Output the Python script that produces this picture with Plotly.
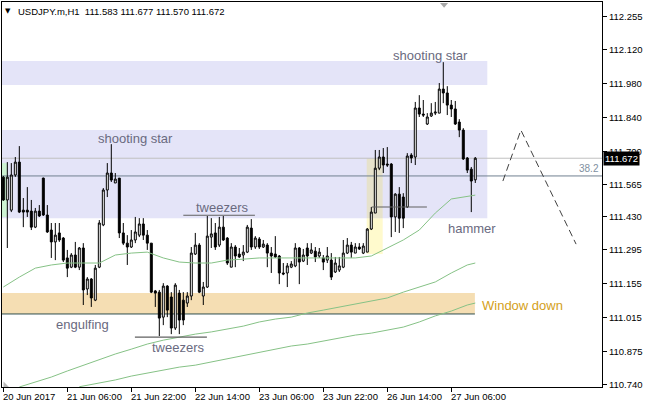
import plotly.graph_objects as go

# ---------------- data ----------------
bar_open = [111.594, 111.500, 111.458, 111.603, 111.656, 111.458, 111.458, 111.454, 111.388, 111.454,
            111.590, 111.438, 111.376, 111.327, 111.364, 111.343, 111.261, 111.223, 111.273, 111.223,
            111.302, 111.133, 111.174, 111.087, 111.223, 111.397, 111.541, 111.611, 111.570, 111.590,
            111.364, 111.322, 111.306, 111.335, 111.355, 111.401, 111.355, 111.322, 111.125, 111.120,
            111.017, 111.145, 111.100, 110.972, 111.116, 111.087, 111.075, 111.104, 111.277, 111.314,
            111.104, 111.141, 111.347, 111.364, 111.314, 111.388, 111.343, 111.223, 111.306, 111.277,
            111.273, 111.285, 111.384, 111.306, 111.339, 111.306, 111.314, 111.281, 111.277, 111.269,
            111.199, 111.199, 111.223, 111.228, 111.302, 111.248, 111.302, 111.281, 111.289, 111.269,
            111.261, 111.252, 111.252, 111.203, 111.211, 111.223, 111.281, 111.314, 111.281, 111.306,
            111.281, 111.285, 111.380, 111.446, 111.631, 111.677, 111.648, 111.648, 111.430, 111.524,
            111.512, 111.471, 111.685, 111.677, 111.879, 111.854, 111.813, 111.846, 111.858, 111.858,
            111.957, 111.941, 111.891, 111.875, 111.821, 111.788, 111.673, 111.627, 111.583]
bar_high = [111.599, 111.656, 111.652, 111.677, 111.722, 111.508, 111.553, 111.500, 111.467, 111.479,
            111.592, 111.479, 111.405, 111.405, 111.405, 111.347, 111.294, 111.281, 111.327, 111.306,
            111.322, 111.182, 111.178, 111.232, 111.417, 111.549, 111.652, 111.730, 111.611, 111.590,
            111.405, 111.355, 111.376, 111.430, 111.425, 111.425, 111.376, 111.322, 111.129, 111.129,
            111.157, 111.149, 111.120, 111.157, 111.129, 111.120, 111.120, 111.306, 111.364, 111.322,
            111.162, 111.434, 111.425, 111.405, 111.430, 111.434, 111.347, 111.322, 111.314, 111.302,
            111.314, 111.397, 111.421, 111.351, 111.347, 111.335, 111.322, 111.306, 111.351, 111.273,
            111.240, 111.240, 111.248, 111.322, 111.306, 111.298, 111.322, 111.322, 111.306, 111.302,
            111.273, 111.306, 111.281, 111.265, 111.265, 111.335, 111.343, 111.327, 111.322, 111.322,
            111.322, 111.384, 111.471, 111.706, 111.706, 111.714, 111.718, 111.652, 111.528, 111.553,
            111.528, 111.693, 111.693, 111.904, 111.932, 111.912, 111.858, 111.899, 111.904, 111.982,
            112.068, 111.969, 111.912, 111.908, 111.833, 111.796, 111.677, 111.636, 111.677]
bar_low = [111.496, 111.302, 111.450, 111.595, 111.446, 111.388, 111.430, 111.376, 111.384, 111.430,
           111.434, 111.364, 111.261, 111.252, 111.327, 111.244, 111.182, 111.219, 111.219, 111.211,
           111.067, 111.108, 111.059, 111.083, 111.219, 111.392, 111.512, 111.574, 111.570, 111.343,
           111.314, 111.232, 111.302, 111.322, 111.347, 111.335, 111.294, 111.116, 111.059, 110.939,
           110.984, 111.017, 110.947, 110.964, 110.947, 110.984, 111.059, 111.087, 111.273, 111.116,
           111.067, 111.137, 111.302, 111.294, 111.306, 111.331, 111.232, 111.223, 111.223, 111.261,
           111.248, 111.281, 111.294, 111.298, 111.298, 111.302, 111.223, 111.199, 111.261, 111.153,
           111.190, 111.141, 111.219, 111.223, 111.153, 111.244, 111.232, 111.277, 111.244, 111.261,
           111.211, 111.240, 111.170, 111.199, 111.203, 111.219, 111.277, 111.261, 111.281, 111.294,
           111.277, 111.285, 111.376, 111.446, 111.623, 111.611, 111.636, 111.347, 111.368, 111.364,
           111.384, 111.467, 111.652, 111.644, 111.842, 111.842, 111.809, 111.842, 111.850, 111.858,
           111.899, 111.850, 111.842, 111.809, 111.759, 111.665, 111.611, 111.450, 111.570]
bar_close = [111.500, 111.594, 111.603, 111.656, 111.450, 111.450, 111.450, 111.388, 111.454, 111.434,
             111.438, 111.368, 111.327, 111.355, 111.335, 111.252, 111.219, 111.273, 111.223, 111.302,
             111.129, 111.174, 111.096, 111.219, 111.405, 111.541, 111.611, 111.582, 111.586, 111.364,
             111.322, 111.306, 111.335, 111.368, 111.401, 111.355, 111.322, 111.120, 111.116, 111.013,
             111.145, 111.046, 110.972, 111.149, 111.005, 111.005, 111.104, 111.281, 111.314, 111.120,
             111.141, 111.351, 111.360, 111.306, 111.388, 111.335, 111.240, 111.306, 111.269, 111.265,
             111.285, 111.388, 111.306, 111.343, 111.306, 111.318, 111.281, 111.269, 111.265, 111.199,
             111.195, 111.228, 111.236, 111.302, 111.244, 111.273, 111.269, 111.294, 111.265, 111.285,
             111.244, 111.269, 111.182, 111.240, 111.228, 111.281, 111.314, 111.285, 111.306, 111.298,
             111.310, 111.380, 111.450, 111.631, 111.677, 111.644, 111.644, 111.430, 111.524, 111.425,
             111.425, 111.681, 111.673, 111.879, 111.854, 111.850, 111.842, 111.858, 111.862, 111.957,
             111.941, 111.891, 111.875, 111.813, 111.788, 111.669, 111.623, 111.578, 111.672]
bar_index = list(range(len(bar_open)))

# time-axis ticks (hourly bars)
time_tick_index = [0, 16, 32, 48, 64, 80, 96, 112]
time_tick_text = ["20 Jun 2017", "21 Jun 06:00", "21 Jun 22:00", "22 Jun 14:00",
                  "23 Jun 06:00", "23 Jun 22:00", "26 Jun 14:00", "27 Jun 06:00"]

# price-axis ticks
price_ticks = [112.255, 112.120, 111.980, 111.840, 111.700, 111.565,
               111.430, 111.295, 111.155, 111.015, 110.875, 110.740]

# moving averages
ma_fast_index = [0, 4, 8, 12, 16, 20, 24, 28, 32, 36, 40, 44, 48, 52, 56, 60, 64, 68, 72, 76,
                 80, 84, 88, 92, 96, 100, 104, 108, 112, 116, 118]
ma_fast = [111.141, 111.182, 111.219, 111.232, 111.240, 111.240, 111.240, 111.273, 111.281, 111.285,
           111.261, 111.244, 111.240, 111.240, 111.252, 111.256, 111.261, 111.261, 111.261, 111.261,
           111.261, 111.261, 111.261, 111.269, 111.302, 111.335, 111.376, 111.446, 111.504, 111.516,
           111.520]
ma_mid_index = [4, 8, 12, 16, 20, 24, 28, 32, 36, 40, 44, 48, 52, 56, 60, 64, 68, 72, 76, 80,
                84, 88, 92, 96, 100, 104, 108, 112, 116, 118]
ma_mid = [110.729, 110.749, 110.770, 110.795, 110.819, 110.840, 110.865, 110.885, 110.906, 110.922,
          110.935, 110.947, 110.956, 110.968, 110.980, 110.997, 111.009, 111.017, 111.034, 111.046,
          111.059, 111.071, 111.083, 111.096, 111.120, 111.141, 111.162, 111.199, 111.232, 111.240]
ma_slow_index = [19, 24, 28, 32, 36, 40, 44, 48, 52, 56, 60, 64, 68, 72, 76, 80, 84, 88, 92, 96,
                 100, 104, 108, 112, 116, 118]
ma_slow = [110.730, 110.745, 110.758, 110.774, 110.787, 110.799, 110.811, 110.819, 110.832, 110.844,
           110.857, 110.869, 110.885, 110.898, 110.906, 110.918, 110.931, 110.943, 110.951, 110.964,
           110.976, 110.997, 111.022, 111.042, 111.067, 111.075]

# projected path (dashed)
projection_index = [124.9, 129.4, 143.2]
projection_price = [111.578, 111.788, 111.318]

# levels
last_price = 111.672
fib_382 = 111.599
window_down_price = 111.030

# zones: (x0, x1, y0, y1, colour)
X_LEFT = -0.33
X_RIGHT = 149.68
zones = [
    (X_LEFT, 121.0, 111.974, 112.073, "#E4E4F8"),
    (X_LEFT, 121.0, 111.425, 111.788, "#E4E4F8"),
    (X_LEFT, 117.9, 111.030, 111.116, "#F5DEB3"),
    (90.85, 94.85, 111.277, 111.425, "#FFFACD"),
    (90.85, 94.85, 111.425, 111.671, "#E6E2CC"),
    (X_LEFT, 0.9, 111.430, 111.652, "#CDF3D3"),
]

# short marker segments: (x0, x1, price)
segments = [
    (45.0, 62.9, 111.437),
    (32.9, 50.9, 110.935),
    (92.1, 105.9, 111.471),
]

# text labels: (text, x, price, colour)
labels = [
    ("shooting star", 33.1, 111.755, "#6A6A80"),
    ("shooting star", 106.9, 112.097, "#6A6A80"),
    ("tweezers", 54.8, 111.467, "#6A6A80"),
    ("hammer", 117.1, 111.384, "#6A6A80"),
    ("engulfing", 19.9, 110.988, "#6A6A80"),
    ("tweezers", 43.8, 110.890, "#6A6A80"),
    ("Window down", 129.8, 111.063, "#D4A020"),
]

FONT = "Liberation Sans, Arial, sans-serif"

fig = go.Figure()

# moving averages
for xs, ys in [(ma_fast_index, ma_fast), (ma_mid_index, ma_mid), (ma_slow_index, ma_slow)]:
    fig.add_trace(go.Scatter(x=xs, y=ys, mode="lines", line=dict(color="#86C286", width=1),
                             hoverinfo="skip", showlegend=False))

# candles
fig.add_trace(go.Candlestick(
    x=bar_index, open=bar_open, high=bar_high, low=bar_low, close=bar_close,
    increasing=dict(line=dict(color="black", width=1), fillcolor="white"),
    decreasing=dict(line=dict(color="black", width=1), fillcolor="black"),
    whiskerwidth=0, showlegend=False))

# projection
fig.add_trace(go.Scatter(x=projection_index, y=projection_price, mode="lines",
                         line=dict(color="#404040", width=1, dash="7px,4px"),
                         hoverinfo="skip", showlegend=False))

shapes = []
for x0, x1, y0, y1, col in zones:
    shapes.append(dict(type="rect", xref="x", yref="y", x0=x0, x1=x1, y0=y0, y1=y1,
                       fillcolor=col, line=dict(width=0), layer="below"))
shapes.append(dict(type="line", xref="x", yref="y", x0=X_LEFT, x1=X_RIGHT, y0=last_price, y1=last_price,
                   line=dict(color="#C0C0C0", width=1), layer="below"))
shapes.append(dict(type="line", xref="x", yref="y", x0=X_LEFT, x1=X_RIGHT, y0=fib_382, y1=fib_382,
                   line=dict(color="#708090", width=1), layer="below"))
shapes.append(dict(type="line", xref="x", yref="y", x0=X_LEFT, x1=117.9, y0=window_down_price,
                   y1=window_down_price, line=dict(color="#2F4F4F", width=1), layer="below"))
for x0, x1, p in segments:
    shapes.append(dict(type="line", xref="x", yref="y", x0=x0, x1=x1, y0=p, y1=p,
                       line=dict(color="#606060", width=1.2)))
# chart-shift marker and corner marker
shapes.append(dict(type="path", xref="x", yref="y",
                   path="M 109.2,112.312 L 111.2,112.312 L 110.2,112.292 Z",
                   fillcolor="#A8A8A8", line=dict(width=0)))
shapes.append(dict(type="path", xref="x", yref="y",
                   path="M 0.05,110.752 L 0.05,110.729 L 1.4,110.729 Z",
                   fillcolor="#B8B8B8", line=dict(width=0)))

annotations = []
for txt, x, p, col in labels:
    annotations.append(dict(text=txt, x=x, y=p, xref="x", yref="y", showarrow=False,
                            font=dict(family=FONT, size=13, color=col)))
annotations.append(dict(text="38.2", x=1, y=fib_382, xref="paper", yref="y", xanchor="right",
                        yanchor="bottom", showarrow=False, xshift=-1, yshift=0,
                        font=dict(family=FONT, size=10, color="#8090A0")))
for idx, txt in zip(time_tick_index, time_tick_text):
    annotations.append(dict(text=txt, x=idx, y=0, xref="x", yref="paper", xanchor="left",
                            yanchor="top", showarrow=False, xshift=-2, yshift=-2,
                            font=dict(family=FONT, size=9.5, color="black")))
annotations.append(dict(text="%.3f" % last_price, x=1, y=last_price, xref="paper", yref="y",
                        xanchor="left", yanchor="middle", showarrow=False, xshift=1,
                        bgcolor="black", borderpad=1,
                        font=dict(family=FONT, size=9.5, color="white")))
annotations.append(dict(text="▼", x=0, y=1, xref="paper", yref="paper", xanchor="left",
                        yanchor="top", showarrow=False, xshift=1, yshift=-3,
                        font=dict(family="DejaVu Sans", size=7, color="black")))
annotations.append(dict(text="USDJPY.m,H1  %.3f %.3f %.3f %.3f" % (bar_open[-1], bar_high[-1], bar_low[-1], bar_close[-1]),
                        x=0, y=1, xref="paper", yref="paper", xanchor="left", yanchor="top",
                        showarrow=False, xshift=14, yshift=-2,
                        font=dict(family=FONT, size=9.5, color="black")))

fig.update_layout(
    width=646, height=409,
    margin=dict(l=2, r=44, t=2, b=22, autoexpand=False),
    paper_bgcolor="white", plot_bgcolor="white",
    shapes=shapes, annotations=annotations,
    showlegend=False,
    xaxis=dict(range=[X_LEFT, X_RIGHT], rangeslider=dict(visible=False), showgrid=False,
               zeroline=False, showline=True, mirror=True, linecolor="black", linewidth=1,
               ticks="outside", ticklen=4, tickcolor="black", tickvals=time_tick_index,
               showticklabels=False, fixedrange=True, automargin=False),
    yaxis=dict(range=[110.729, 112.316], side="right", showgrid=False, zeroline=False,
               showline=True, mirror=True, linecolor="black", linewidth=1,
               ticks="outside", ticklen=4, tickcolor="black", tickvals=price_ticks,
               ticktext=["%.3f" % v for v in price_ticks],
               tickfont=dict(family=FONT, size=9.5, color="black"), fixedrange=True,
               automargin=False),
)

fig.write_html("out.html", config={"displayModeBar": False},
               post_script="document.body.style.margin='0px';document.body.style.overflow='hidden';")
